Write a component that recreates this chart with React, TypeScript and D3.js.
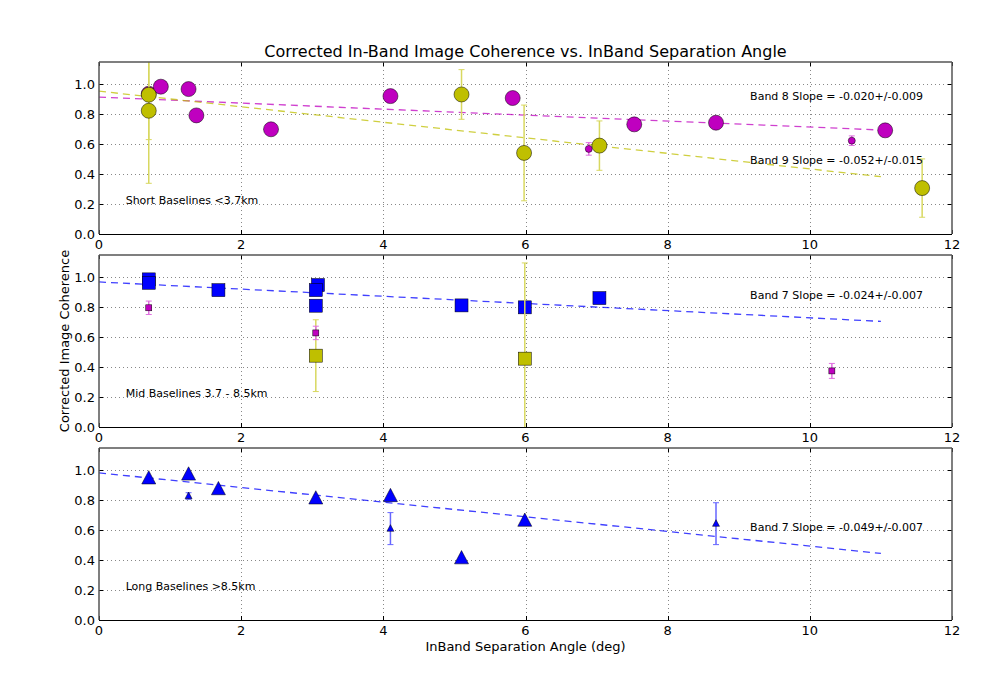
import React from "react";
import * as d3 from "d3";

const titleText = "Corrected In-Band Image Coherence vs. InBand Separation Angle";
const xLabelText = "InBand Separation Angle (deg)";
const yLabelText = "Corrected Image Coherence";

const xTicks = [0, 2, 4, 6, 8, 10, 12];
const yTicks = [0, 0.2, 0.4, 0.6, 0.8, 1.0];

// Panel 1: Short baselines
const shortBand8 = [
  { x: 0.70, y: 0.938 }, { x: 0.87, y: 0.985 }, { x: 1.26, y: 0.969 }, { x: 1.37, y: 0.793 },
  { x: 2.42, y: 0.70 }, { x: 4.10, y: 0.922 }, { x: 5.82, y: 0.909 }, { x: 7.53, y: 0.733 },
  { x: 8.68, y: 0.744 }, { x: 11.06, y: 0.693 },
];
const shortBand8Err = [
  { x: 6.89, y: 0.569, e: 0.042 },
  { x: 10.59, y: 0.624, e: 0.032 },
];
const shortBand9 = [
  { x: 0.70, y: 0.931, e: 0.30 }, { x: 0.70, y: 0.824, e: 0.485 }, { x: 5.10, y: 0.933, e: 0.166 },
  { x: 5.98, y: 0.542, e: 0.32 }, { x: 7.04, y: 0.591, e: 0.165 }, { x: 11.58, y: 0.307, e: 0.195 },
];

// Panel 2: Mid baselines
const midBand7 = [
  { x: 0.70, y: 0.987 }, { x: 0.70, y: 0.964 }, { x: 1.68, y: 0.915 }, { x: 3.08, y: 0.949 },
  { x: 3.05, y: 0.915 }, { x: 3.05, y: 0.811 }, { x: 5.10, y: 0.813 }, { x: 5.99, y: 0.80 },
  { x: 7.04, y: 0.862 },
];
const midBand8Err = [
  { x: 0.70, y: 0.797, e: 0.045 }, { x: 3.05, y: 0.629, e: 0.045 }, { x: 10.31, y: 0.375, e: 0.05 },
];
const midBand9 = [
  { x: 3.05, y: 0.477, e: 0.24 }, { x: 5.99, y: 0.457, e: 0.64 },
];

// Panel 3: Long baselines
const longBand7 = [
  { x: 0.70, y: 0.945 }, { x: 1.26, y: 0.971 }, { x: 1.68, y: 0.873 }, { x: 3.05, y: 0.811 },
  { x: 4.10, y: 0.827 }, { x: 5.10, y: 0.411 }, { x: 5.99, y: 0.662 },
];
const longBand7Err = [
  { x: 1.26, y: 0.829, e: 0.022 }, { x: 4.10, y: 0.611, e: 0.107 }, { x: 8.68, y: 0.644, e: 0.14 },
];

// Fit lines: intercept, slope, x range
const shortFit8 = { a: 0.915, b: -0.020, x0: 0, x1: 11 };
const shortFit9 = { a: 0.955, b: -0.052, x0: 0, x1: 11 };
const midFit7 = { a: 0.970, b: -0.024, x0: 0, x1: 11 };
const longFit7 = { a: 0.984, b: -0.049, x0: 0, x1: 11 };

const panelLabels = ["Short Baselines <3.7km", "Mid Baselines 3.7 - 8.5km", "Long Baselines >8.5km"];
const slopeLabels = [
  ["Band 8 Slope = -0.020+/-0.009", "Band 9 Slope = -0.052+/-0.015"],
  ["Band 7 Slope = -0.024+/-0.007"],
  ["Band 7 Slope = -0.049+/-0.007"],
];
const slopeLabelY = [[0.896, 0.466], [0.858], [0.597]];

const YEL = "#bfbf00";
const MAG = "#bf00bf";
const BLU = "#0000ff";
const YEL_ERR = "#d8d860";
const MAG_ERR = "#e070e0";
const BLU_ERR = "#6666ff";

const FONT = "DejaVu Sans, sans-serif";

const W = 1008, H = 690;
const LEFT = 99, RIGHT = 952;
const PANEL_TOPS = [62, 255, 448];
const PANEL_H = 172;

type Pt = { x: number; y: number; e?: number };

function Panel({ idx, children }: { idx: number; children: (x: d3.ScaleLinear<number, number>, y: d3.ScaleLinear<number, number>) => React.ReactNode }) {
  const top = PANEL_TOPS[idx];
  const x = d3.scaleLinear().domain([0, 12]).range([LEFT, RIGHT]);
  const y = d3.scaleLinear().domain([0, 1.15]).range([top + PANEL_H, top]);
  const clipId = `clip${idx}`;
  return (
    <g>
      <defs>
        <clipPath id={clipId}>
          <rect x={LEFT} y={top} width={RIGHT - LEFT} height={PANEL_H} />
        </clipPath>
      </defs>
      <rect x={LEFT} y={top} width={RIGHT - LEFT} height={PANEL_H} fill="#fff" />
      {xTicks.slice(1, -1).map((t) => (
        <line key={"gx" + t} x1={Math.round(x(t)) + 0.5} x2={Math.round(x(t)) + 0.5} y1={top} y2={top + PANEL_H}
          stroke="#555" strokeWidth={0.7} strokeDasharray="1,3" />
      ))}
      {yTicks.slice(1).map((t) => (
        <line key={"gy" + t} x1={LEFT} x2={RIGHT} y1={Math.round(y(t)) + 0.5} y2={Math.round(y(t)) + 0.5}
          stroke="#555" strokeWidth={0.7} strokeDasharray="1,3" />
      ))}
      <g clipPath={`url(#${clipId})`}>{children(x, y)}</g>
      {xTicks.map((t) => (
        <g key={"tx" + t}>
          <line x1={Math.round(x(t)) + 0.5} x2={Math.round(x(t)) + 0.5} y1={top + PANEL_H} y2={top + PANEL_H - 4} stroke="#000" />
          <line x1={Math.round(x(t)) + 0.5} x2={Math.round(x(t)) + 0.5} y1={top} y2={top + 4} stroke="#000" />
          <text x={x(t)} y={top + PANEL_H + 15} textAnchor="middle" fontFamily={FONT} fontSize={13}>{t}</text>
        </g>
      ))}
      {yTicks.map((t) => (
        <g key={"ty" + t}>
          <line x1={LEFT} x2={LEFT + 4} y1={Math.round(y(t)) + 0.5} y2={Math.round(y(t)) + 0.5} stroke="#000" />
          <line x1={RIGHT} x2={RIGHT - 4} y1={Math.round(y(t)) + 0.5} y2={Math.round(y(t)) + 0.5} stroke="#000" />
          <text x={LEFT - 4} y={y(t) + 5} textAnchor="end" fontFamily={FONT} fontSize={13}>{t.toFixed(1)}</text>
        </g>
      ))}
      <line x1={LEFT} x2={LEFT} y1={top} y2={top + PANEL_H} stroke="#555" strokeWidth={1.5} />
      <line x1={RIGHT} x2={RIGHT} y1={top} y2={top + PANEL_H} stroke="#555" strokeWidth={1.5} />
      <line x1={LEFT} x2={RIGHT} y1={top} y2={top} stroke="#555" strokeWidth={1.5} />
      <line x1={LEFT} x2={RIGHT} y1={top + PANEL_H + 0.5} y2={top + PANEL_H + 0.5} stroke="#000" strokeWidth={1} />
      <text x={x(0.375)} y={y(0.2)} fontFamily={FONT} fontSize={11}>{panelLabels[idx]}</text>
      {slopeLabels[idx].map((s, i) => (
        <text key={s + i} x={x(9.16)} y={y(slopeLabelY[idx][i])} fontFamily={FONT} fontSize={11}>{s}</text>
      ))}
    </g>
  );
}

function FitLine({ fit, color, x, y }: any) {
  const line = d3.line<number>().x((d) => x(d)).y((d) => y(fit.a + fit.b * d));
  return <path d={line([fit.x0, fit.x1]) || ""} fill="none" stroke={color} strokeWidth={1.3} strokeOpacity={0.75} strokeDasharray="7,5" />;
}

function ErrBars({ data, color, x, y, cap = 3, width = 1.5 }: any) {
  return (
    <g>
      {(data as Pt[]).map((d, i) => (
        <g key={i} stroke={color} strokeWidth={width}>
          <line x1={x(d.x)} x2={x(d.x)} y1={y(d.y - (d.e || 0))} y2={y(d.y + (d.e || 0))} />
          <line x1={x(d.x) - cap} x2={x(d.x) + cap} y1={y(d.y - (d.e || 0))} y2={y(d.y - (d.e || 0))} strokeWidth={1} />
          <line x1={x(d.x) - cap} x2={x(d.x) + cap} y1={y(d.y + (d.e || 0))} y2={y(d.y + (d.e || 0))} strokeWidth={1} />
        </g>
      ))}
    </g>
  );
}

function Markers({ data, shape, size, color, x, y }: any) {
  return (
    <g>
      {(data as Pt[]).map((d, i) => {
        const cx = x(d.x), cy = y(d.y);
        if (shape === "circle")
          return <circle key={i} cx={cx} cy={cy} r={size / 2} fill={color} stroke="#000" strokeWidth={0.5} />;
        if (shape === "square")
          return <rect key={i} x={cx - size / 2} y={cy - size / 2} width={size} height={size} fill={color} stroke="#000" strokeWidth={0.5} />;
        const h = size * 0.95;
        const pts = `${cx},${cy - h * 0.6} ${cx - size / 2},${cy + h * 0.4} ${cx + size / 2},${cy + h * 0.4}`;
        return <polygon key={i} points={pts} fill={color} stroke="#000" strokeWidth={0.5} />;
      })}
    </g>
  );
}

export default function App() {
  return (
    <svg width={W} height={H} style={{ position: "absolute", left: 0, top: 0, background: "#fff" }}>
      <rect width={W} height={H} fill="#fff" />
      <text x={525.5} y={57} textAnchor="middle" fontFamily={FONT} fontSize={16}>{titleText}</text>
      <Panel idx={0}>
        {(x, y) => (
          <g>
            <FitLine fit={shortFit8} color={MAG} x={x} y={y} />
            <FitLine fit={shortFit9} color={YEL} x={x} y={y} />
            <Markers data={shortBand8} shape="circle" size={15} color={MAG} x={x} y={y} />
            <ErrBars data={shortBand8Err} color={MAG_ERR} x={x} y={y} />
            <Markers data={shortBand8Err} shape="circle" size={7} color={MAG} x={x} y={y} />
            <ErrBars data={shortBand9} color={YEL_ERR} x={x} y={y} />
            <Markers data={shortBand9} shape="circle" size={15} color={YEL} x={x} y={y} />
          </g>
        )}
      </Panel>
      <Panel idx={1}>
        {(x, y) => (
          <g>
            <FitLine fit={midFit7} color={BLU} x={x} y={y} />
            <Markers data={midBand7} shape="square" size={13} color={BLU} x={x} y={y} />
            <ErrBars data={midBand9} color={YEL_ERR} x={x} y={y} />
            <Markers data={midBand9} shape="square" size={13} color={YEL} x={x} y={y} />
            <ErrBars data={midBand8Err} color={MAG_ERR} x={x} y={y} />
            <Markers data={midBand8Err} shape="square" size={6} color={MAG} x={x} y={y} />
          </g>
        )}
      </Panel>
      <Panel idx={2}>
        {(x, y) => (
          <g>
            <FitLine fit={longFit7} color={BLU} x={x} y={y} />
            <Markers data={longBand7} shape="triangle" size={14} color={BLU} x={x} y={y} />
            <ErrBars data={longBand7Err} color={BLU_ERR} x={x} y={y} />
            <Markers data={longBand7Err} shape="triangle" size={7} color={BLU} x={x} y={y} />
          </g>
        )}
      </Panel>
      <text x={525.5} y={651} textAnchor="middle" fontFamily={FONT} fontSize={13}>{xLabelText}</text>
      <text transform="translate(69,341) rotate(-90)" textAnchor="middle" fontFamily={FONT} fontSize={13}>{yLabelText}</text>
    </svg>
  );
}
